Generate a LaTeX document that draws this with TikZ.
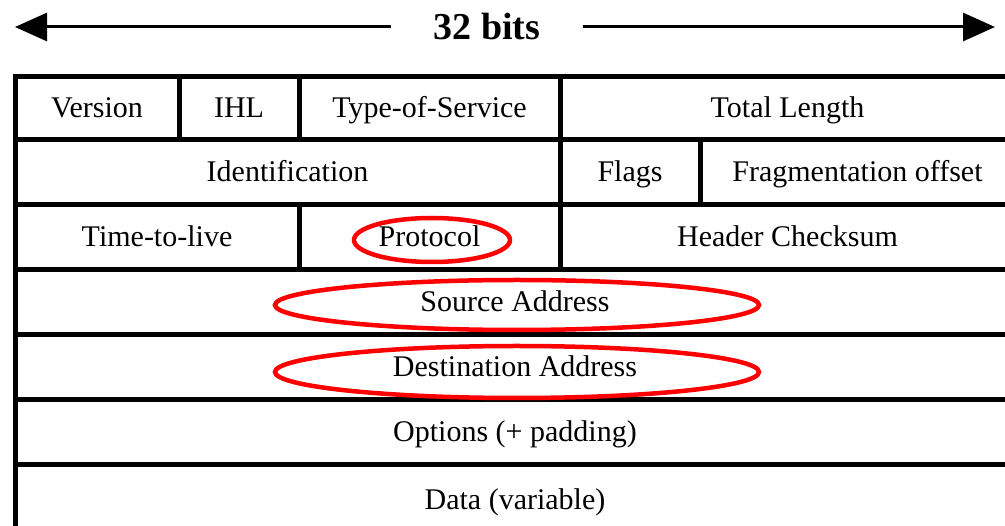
\documentclass[tikz,border=0pt]{standalone}
\usepackage{fontspec}
\setmainfont{Liberation Serif}
\usepackage{xcolor}
\usetikzlibrary{arrows.meta}

\begin{document}
\begin{tikzpicture}[x=1pt,y=-1pt,
    field/.style={draw, line width=5pt, inner sep=0pt, text height=26pt, text depth=7pt, font=\fontsize{30}{30}\selectfont},
    ring/.style={red, line width=4.5pt}]
                \useasboundingbox (0,0) rectangle (1005,526);
                \clip (0,0) rectangle (1005,526);

                % width of the header
                \node[inner xsep=42pt, font=\bfseries\fontsize{38}{38}\selectfont] (bits) at (487,27) {32 bits};
                \coordinate (lefttip) at (15,27);
                \coordinate (righttip) at (995,27);
                \draw[line width=3pt, -{Triangle[length=32pt,width=28pt]}] (bits.west) -- (lefttip);
                \draw[line width=3pt, -{Triangle[length=32pt,width=28pt]}] (bits.east) -- (righttip);

                % row 1
                \node[field, minimum width=164pt, minimum height=63pt] (ver) at (97,108.5) {Version};
                \node[field, minimum width=120pt, minimum height=63pt] (ihl) at (239,108.5) {IHL};
                \node[field, minimum width=261pt, minimum height=63pt] (tos) at (429.5,108.5) {Type-of-Service};
                \node[field, minimum width=455pt, minimum height=63pt] (len) at (787.5,108.5) {Total Length};

                % row 2
                \node[field, minimum width=545pt, minimum height=65pt] (ident) at (287.5,172.5) {Identification};
                \node[field, minimum width=140pt, minimum height=65pt] (flags) at (630,172.5) {Flags};
                \node[field, minimum width=315pt, minimum height=65pt] (frag) at (857.5,172.5) {Fragmentation offset};

                % row 3
                \node[field, minimum width=284pt, minimum height=65pt] (ttl) at (157,237.5) {Time-to-live};
                \node[field, minimum width=261pt, minimum height=65pt] (proto) at (429.5,237.5) {Protocol};
                \node[field, minimum width=455pt, minimum height=65pt] (check) at (787.5,237.5) {Header Checksum};

                % rows 4 to 7
                \node[field, minimum width=1000pt, minimum height=65pt] (src) at (515,302.5) {Source Address};
                \node[field, minimum width=1000pt, minimum height=65pt] (dst) at (515,367.5) {Destination Address};
                \node[field, minimum width=1000pt, minimum height=65pt] (opt) at (515,432.5) {Options (+ padding)};
                \node[field, minimum width=1000pt, minimum height=70pt] (data) at (515,500) {Data (variable)};

                % marked fields
                \draw[ring] ([shift={(2.5,2.5)}]proto.center) ellipse [x radius=78pt, y radius=22pt];
                \draw[ring] ([shift={(2,2.5)}]src.center) ellipse [x radius=242pt, y radius=25pt];
                \draw[ring] ([shift={(2,4.5)}]dst.center) ellipse [x radius=242pt, y radius=26pt];
            \end{tikzpicture}
\end{document}
